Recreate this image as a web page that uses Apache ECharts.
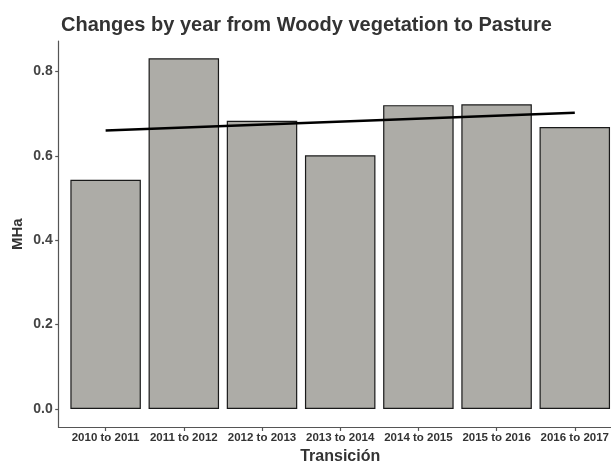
<!DOCTYPE html>
<html>
<head>
<meta charset="utf-8">
<script src="https://cdn.jsdelivr.net/npm/echarts@6/dist/echarts.min.js"></script>
<style>html,body{margin:0;padding:0;background:#fff;}#c{width:611px;height:463px;}</style>
</head>
<body>
<div id="c"></div>
<script>
var categories = ['2010 to 2011','2011 to 2012','2012 to 2013','2013 to 2014','2014 to 2015','2015 to 2016','2016 to 2017'];
var values = [0.543, 0.831, 0.683, 0.601, 0.720, 0.722, 0.668];
var trendValues = [0.660, 0.702];
var yTicks = [0, 0.2, 0.4, 0.6, 0.8];

var positions = categories.map(function (c, i) { return i + 1; });
var barData = values.map(function (v, i) { return [positions[i], v]; });
var trendData = [[positions[0], trendValues[0]], [positions[positions.length - 1], trendValues[1]]];

var chart = echarts.init(document.getElementById('c'));
var font = 'Liberation Sans, Arial, sans-serif';
chart.setOption({
  animation: false,
  backgroundColor: '#ffffff',
  title: {
    text: 'Changes by year from Woody vegetation to Pasture',
    left: 56, top: 10,
    textStyle: { fontFamily: font, fontSize: 20, fontWeight: 'bold', color: '#333333' }
  },
  grid: { left: 58.7, top: 41, width: 563, height: 386.5, containLabel: false, outerBoundsMode: 'none' },
  xAxis: {
    type: 'value',
    min: 0.4, max: 7.6,
    name: 'Transición',
    nameLocation: 'middle',
    nameGap: 20,
    nameTextStyle: { fontFamily: font, fontSize: 16, fontWeight: 'bold', color: '#333333' },
    axisLine: { show: true, onZero: false, lineStyle: { color: '#555555', width: 1.2 } },
    axisTick: { show: true, customValues: positions, length: 3.5, lineStyle: { color: '#555555', width: 1.2 } },
    axisLabel: {
      customValues: positions,
      formatter: function (v) { return categories[Math.round(v) - 1] || ''; },
      fontFamily: font, fontSize: 11.5, fontWeight: 'bold', color: '#333333', margin: 4
    },
    splitLine: { show: false }
  },
  yAxis: {
    type: 'value',
    min: -0.044, max: 0.872,
    name: 'MHa',
    nameLocation: 'middle',
    nameGap: 33,
    nameMoveOverlap: false,
    nameRotate: 90,
    nameTextStyle: { fontFamily: font, fontSize: 15, fontWeight: 'bold', color: '#333333', verticalAlign: 'bottom' },
    axisLine: { show: true, onZero: false, lineStyle: { color: '#555555', width: 1.2 } },
    axisTick: { show: true, customValues: yTicks, length: 3.5, lineStyle: { color: '#555555', width: 1.2 } },
    axisLabel: {
      customValues: yTicks,
      formatter: function (v) { return v.toFixed(1); },
      fontFamily: font, fontSize: 14, fontWeight: 'bold', color: '#444444', margin: 6
    },
    splitLine: { show: false }
  },
  series: [
    {
      type: 'bar',
      data: barData,
      barWidth: 70.5,
      itemStyle: { color: '#adaca7', borderColor: '#1a1a1a', borderWidth: 1.2 },
      z: 2
    },
    {
      type: 'line',
      data: trendData,
      symbol: 'none',
      lineStyle: { color: '#000000', width: 2.5 },
      z: 3
    }
  ]
});
</script>
</body>
</html>
